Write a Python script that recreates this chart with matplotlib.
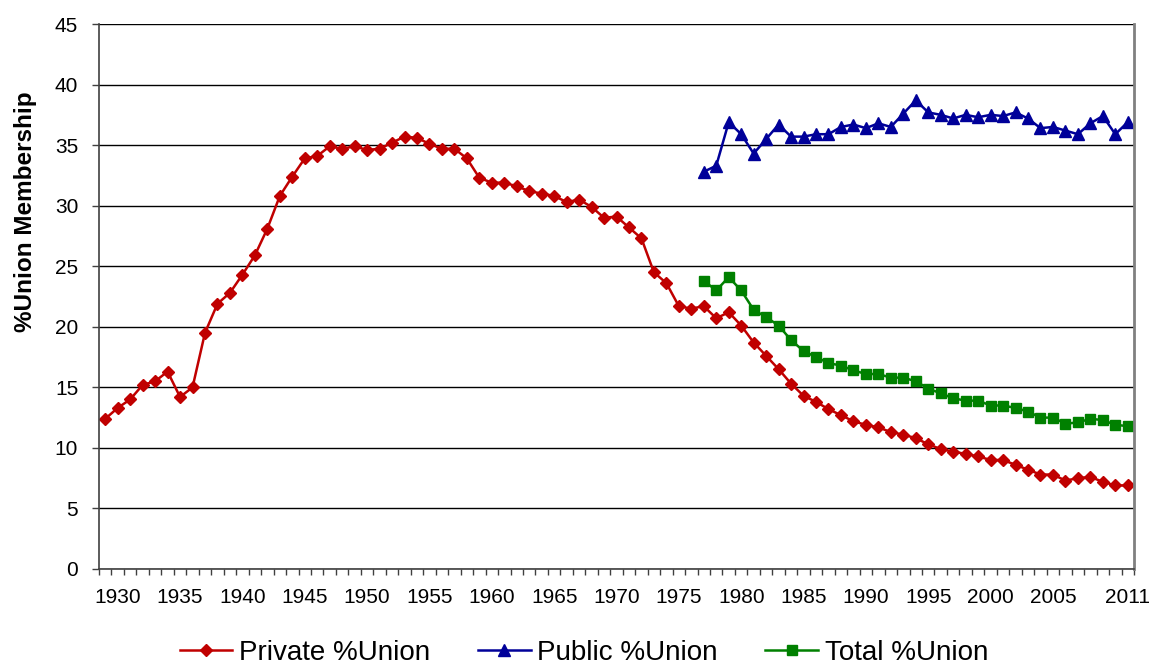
import numpy as np
import matplotlib
matplotlib.use("Agg")
import matplotlib.pyplot as plt

plt.rcParams['font.family'] = ['Liberation Sans', 'DejaVu Sans']

years = list(range(1929, 2012))
private = [12.4, 13.3, 14.0, 15.2, 15.5, 16.3, 14.2, 15.0, 19.5, 21.9,
           22.8, 24.3, 25.9, 28.1, 30.8, 32.4, 33.9, 34.1, 34.9, 34.7,
           34.9, 34.6, 34.7, 35.2, 35.7, 35.6, 35.1, 34.7, 34.7, 33.9,
           32.3, 31.9, 31.9, 31.6, 31.2, 31.0, 30.8, 30.3, 30.5, 29.9,
           29.0, 29.1, 28.2, 27.3, 24.5, 23.6, 21.7, 21.5, 21.7, 20.7,
           21.2, 20.1, 18.7, 17.6, 16.5, 15.3, 14.3, 13.8, 13.2, 12.7,
           12.2, 11.9, 11.7, 11.3, 11.1, 10.8, 10.3, 9.9, 9.7, 9.5,
           9.3, 9.0, 9.0, 8.6, 8.2, 7.8, 7.8, 7.3, 7.5, 7.6,
           7.2, 6.9, 6.9]

years_pub = list(range(1977, 2012))
public = [32.8, 33.3, 36.9, 35.9, 34.3, 35.5, 36.7, 35.7, 35.7, 35.9,
          35.9, 36.5, 36.7, 36.4, 36.8, 36.5, 37.6, 38.7, 37.7, 37.5,
          37.2, 37.5, 37.3, 37.5, 37.4, 37.7, 37.2, 36.4, 36.5, 36.2,
          35.9, 36.8, 37.4, 35.9, 36.9]
total = [23.8, 23.0, 24.1, 23.0, 21.4, 20.8, 20.1, 18.9, 18.0, 17.5,
         17.0, 16.8, 16.4, 16.1, 16.1, 15.8, 15.8, 15.5, 14.9, 14.5,
         14.1, 13.9, 13.9, 13.5, 13.5, 13.3, 13.0, 12.5, 12.5, 12.0,
         12.1, 12.4, 12.3, 11.9, 11.8]

label_years = [1930, 1935, 1940, 1945, 1950, 1955, 1960, 1965, 1970, 1975,
               1980, 1985, 1990, 1995, 2000, 2005, 2011]

fig = plt.figure(figsize=(11.51, 6.66), dpi=100)
ax = fig.add_axes([99/1151, 97/666, (1134-99)/1151, (569-24)/666])

ax.plot(years, private, color='#C00000', lw=1.8, marker='D', ms=6,
        label='Private %Union')
ax.plot(years_pub, public, color='#000099', lw=1.8, marker='^', ms=9,
        label='Public %Union')
ax.plot(years_pub, total, color='#008000', lw=1.8, marker='s', ms=7,
        label='Total %Union')

ax.set_xlim(1928.5, 2011.5)
ax.set_ylim(0, 45)
ax.set_yticks(range(0, 46, 5))
ax.yaxis.grid(True, color='black', lw=1)
ax.set_axisbelow(True)

# tick marks between the yearly categories, labels on the years
bounds = np.arange(1928.5, 2012, 1)
ax.set_xticks(bounds)
ax.set_xticklabels([])
ax.set_xticks(label_years, minor=True)
ax.set_xticklabels([str(y) for y in label_years], minor=True)
ax.tick_params(axis='x', which='major', direction='out', length=4, width=1, color='#404040')
ax.tick_params(axis='x', which='minor', length=0, labelsize=15, pad=14)
ax.tick_params(axis='y', direction='out', length=5, width=1, color='#404040', labelsize=15, pad=10)

for s in ['left', 'bottom']:
    ax.spines[s].set_color('#404040')
    ax.spines[s].set_linewidth(1.2)
ax.spines['right'].set_color('#808080')
ax.spines['right'].set_linewidth(2)
ax.spines['top'].set_visible(False)

ax.set_ylabel('%Union Membership', fontsize=17.5, fontweight='bold')
ax.yaxis.set_label_coords((37-99)/1035, (569-212)/545)

fig.legend(loc='center', bbox_to_anchor=(584/1151, 13/666), ncol=3, frameon=False,
           fontsize=20, handlelength=1.9, handletextpad=0.25, columnspacing=1.7)

fig.savefig('out.png', dpi=100)
